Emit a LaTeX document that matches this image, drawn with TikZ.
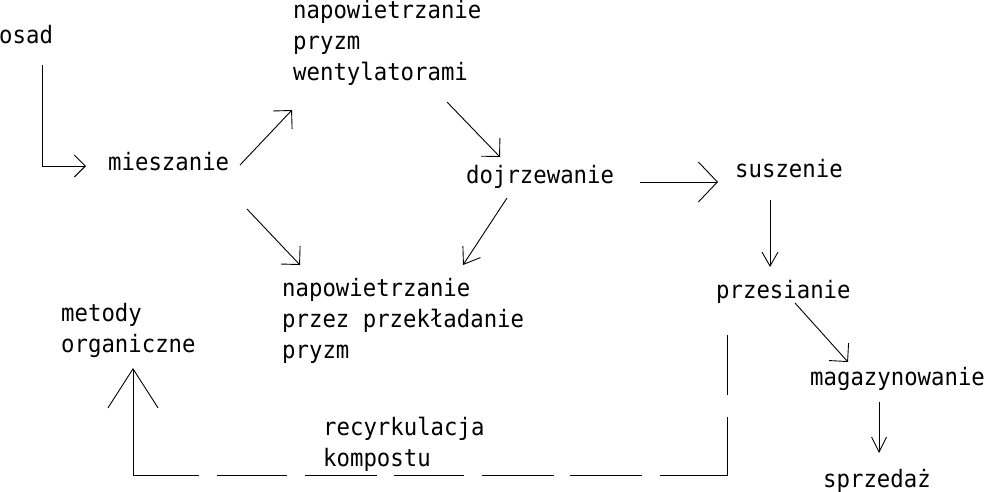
\documentclass[tikz,border=0pt]{standalone}
\usepackage{fontspec}
\newfontfamily\cadfont[FakeStretch=0.93]{DejaVu Sans Mono}
\usetikzlibrary{arrows.meta, calc}

\begin{document}
\begin{tikzpicture}[
    x=1pt, y=-1pt,
    every node/.style={font=\cadfont\fontsize{24pt}{31pt}\selectfont,
                       inner sep=0pt, anchor=base west, align=left},
]

% ---------------------------------------------------------------- styles
\tikzset{
    flow/.style={line width=0.9pt, -{Straight Barb[length=13pt, width=26pt]}},
    flowwide/.style={line width=0.9pt, -{Straight Barb[length=19pt, width=40pt]}},
    flowthin/.style={line width=0.9pt, -{Straight Barb[length=15pt, width=15pt]}},
    backloop/.style={line width=0.9pt, -{Straight Barb[length=39pt, width=50pt]},
                     dash pattern=on 60pt off 22pt on 125pt off 18pt on 72pt off 16pt
                     on 72pt off 18pt on 70pt off 17pt on 72pt off 18pt on 70pt off 18pt
                     on 200pt off 0pt},
}

% the page, in pixels of the sketch (y runs down)
\useasboundingbox (0,0) rectangle (990,491);

% ---------------------------------------------------------------- steps
% (a node of several lines sits on the baseline of its last line)
\node (osad)   at (-1, 43)   {osad};
\node (mies)   at (108, 170) {mieszanie};
\node (napA)   at (293, 80)  {napowietrzanie\\pryzm\\wentylatorami};
\node (dojr)   at (466, 183) {dojrzewanie};
\node (napB)   at (282, 358) {napowietrzanie\\przez przekładanie\\pryzm};
\node (susz)   at (735, 177) {suszenie};
\node (przes)  at (716, 298) {przesianie};
\node (magaz)  at (810, 385) {magazynowanie};
\node (sprz)   at (823, 487) {sprzedaż};
\node (metody) at (61, 352)  {metody\\organiczne};
\node (recyk)  at (323, 466) {recyrkulacja\\kompostu};

% ---------------------------------------------------------------- arrows
\draw[line width=0.9pt, -{Straight Barb[length=11pt, width=22pt]}]
    ($(osad.base west)+(43,22)$) |- ($(mies.base west)+(-22,-4)$);

% the two ways of aerating
\draw[flow] ($(mies.base west)+(132,-5)$) -- ($(napA.base west)+(-1,30)$);
\draw[flow] ($(mies.base west)+(139,39)$) -- ($(napB.base west)+(18,-93)$);
\draw[flow] ($(napA.base west)+(154,22)$) -- ($(dojr.base west)+(34,-26)$);
\draw[line width=0.9pt, -{Straight Barb[length=15pt, width=21pt]}]
    ($(dojr.base west)+(41,15)$) -- ($(napB.base west)+(181,-93)$);

% drying, sieving, storing, selling
\draw[flowwide] ($(dojr.base west)+(174,-1)$) -- ($(susz.base west)+(-17,5)$);
\draw[line width=0.9pt, -{Straight Barb[length=14pt, width=16pt]}]
    ($(susz.base west)+(35,23)$) -- ($(przes.base west)+(54,-31)$);
\draw[flow] ($(przes.base west)+(79,5)$) -- ($(magaz.base west)+(38,-23)$);
\draw[flowthin] ($(magaz.base west)+(69,17)$) -- ($(sprz.base west)+(56,-34)$);

% compost sent back round
\coordinate (loopS) at ($(przes.base west)+(11,37)$);
\coordinate (loopB) at ($(recyk.base west)+(0,9)$);
\coordinate (loopE) at ($(metody.base west)+(72,16)$);
\draw[backloop] (loopS) -- (loopS |- loopB) -- (loopE |- loopB) -- (loopE);

\end{tikzpicture}
\end{document}
